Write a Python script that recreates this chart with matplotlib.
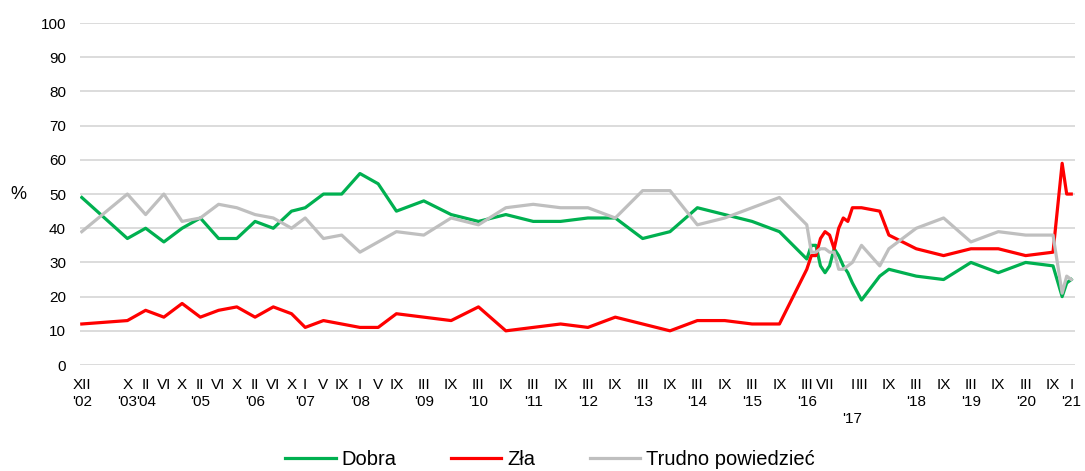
import matplotlib
matplotlib.use("Agg")
import matplotlib.pyplot as plt

plt.rcParams["font.family"] = ["Liberation Sans", "DejaVu Sans"]

# survey dates (year-month)
dates = ["2002-12", "2003-10", "2004-02", "2004-06", "2004-10", "2005-02", "2005-06",
         "2005-10", "2006-02", "2006-06", "2006-10", "2007-01", "2007-05", "2007-09",
         "2008-01", "2008-05", "2008-09", "2009-03", "2009-09", "2010-03", "2010-09",
         "2011-03", "2011-09", "2012-03", "2012-09", "2013-03", "2013-09", "2014-03",
         "2014-09", "2015-03", "2015-09",
         "2016-03", "2016-04", "2016-05", "2016-06", "2016-07", "2016-08", "2016-09",
         "2016-10", "2016-11", "2016-12",
         "2017-01", "2017-03", "2017-07", "2017-09",
         "2018-03", "2018-09", "2019-03", "2019-09", "2020-03", "2020-09",
         "2020-11", "2020-12", "2021-01"]

dobra = [49, 37, 40, 36, 40, 43, 37, 37, 42, 40, 45, 46, 50, 50, 56, 53, 45, 48, 44, 42,
         44, 42, 42, 43, 43, 37, 39, 46, 44, 42, 39,
         31, 35, 35, 29, 27, 29, 34, 32, 29, 27,
         24, 19, 26, 28,
         26, 25, 30, 27, 30, 29,
         20, 24, 25]
zla = [12, 13, 16, 14, 18, 14, 16, 17, 14, 17, 15, 11, 13, 12, 11, 11, 15, 14, 13, 17,
       10, 11, 12, 11, 14, 12, 10, 13, 13, 12, 12,
       28, 32, 32, 37, 39, 38, 34, 40, 43, 42,
       46, 46, 45, 38,
       34, 32, 34, 34, 32, 33,
       59, 50, 50]
trudno = [39, 50, 44, 50, 42, 43, 47, 46, 44, 43, 40, 43, 37, 38, 33, 36, 39, 38, 43, 41,
          46, 47, 46, 46, 43, 51, 51, 41, 43, 46, 49,
          41, 33, 33, 34, 34, 33, 33, 28, 28, 29,
          30, 35, 29, 34,
          40, 43, 36, 39, 38, 38,
          21, 26, 25]

# labelled months on the x axis
tick_dates = ["2002-12", "2003-10", "2004-02", "2004-06", "2004-10", "2005-02", "2005-06",
              "2005-10", "2006-02", "2006-06", "2006-10", "2007-01", "2007-05", "2007-09",
              "2008-01", "2008-05", "2008-09", "2009-03", "2009-09", "2010-03", "2010-09",
              "2011-03", "2011-09", "2012-03", "2012-09", "2013-03", "2013-09", "2014-03",
              "2014-09", "2015-03", "2015-09", "2016-03", "2016-07", "2017-01", "2017-03",
              "2017-09", "2018-03", "2018-09", "2019-03", "2019-09", "2020-03", "2020-09",
              "2021-01"]
staggered_years = [2017]

ROMAN = ["I", "II", "III", "IV", "V", "VI", "VII", "VIII", "IX", "X", "XI", "XII"]


def month_index(d):
    y, m = d.split("-")
    return (int(y) - 2002) * 12 + int(m) - 12


def tick_texts(tdates):
    out = []
    seen = set()
    for d in tdates:
        y, m = int(d[:4]), int(d[5:])
        txt = ROMAN[m - 1]
        if y not in seen:
            seen.add(y)
            sep = "\n\n" if y in staggered_years else "\n"
            txt += sep + "'" + str(y)[2:]
        out.append(txt)
    return out


x = [month_index(d) for d in dates]

fig = plt.figure(figsize=(10.85, 4.71), dpi=100)
ax = fig.add_axes([0.0737, 0.225, 0.917, 0.726])

ax.plot(x, dobra, color="#00B050", lw=2.3, label="Dobra")
ax.plot(x, zla, color="#FF0000", lw=2.3, label="Zła")
ax.plot(x, trudno, color="#BFBFBF", lw=2.3, label="Trudno powiedzieć")

ax.set_ylim(0, 100)
ax.set_xlim(-0.4, 217.8)
ax.set_yticks(range(0, 101, 10))
ax.yaxis.grid(True, color="#D9D9D9", lw=1.3)
ax.set_axisbelow(True)
for s in ax.spines.values():
    s.set_visible(False)

ax.set_xticks([month_index(d) for d in tick_dates])
ax.set_xticklabels(tick_texts(tick_dates), linespacing=1.3)
ax.tick_params(axis="both", length=0, labelsize=11, colors="black")
ax.tick_params(axis="x", pad=9)
ax.tick_params(axis="y", pad=10)

ax.set_ylabel("%", rotation=0, fontsize=13, labelpad=16, va="center")

fig.legend(loc="center", bbox_to_anchor=(0.507, 0.025), ncol=3, frameon=False,
           fontsize=14.5, handlelength=2.5, handletextpad=0.3, columnspacing=2.7)

fig.savefig("out.png", dpi=100)
